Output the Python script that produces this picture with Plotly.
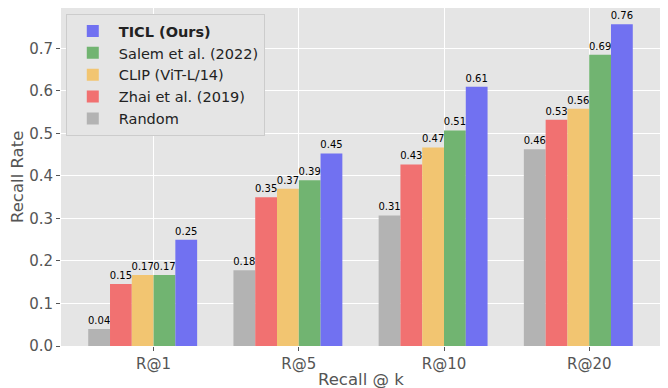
import plotly.graph_objects as go

categories = ["R@1", "R@5", "R@10", "R@20"]
methods = ["Random", "Zhai et al. (2019)", "CLIP (ViT-L/14)", "Salem et al. (2022)", "<b>TICL (Ours)</b>"]
random_vals = [0.04, 0.178, 0.307, 0.463]
zhai_vals = [0.146, 0.35, 0.427, 0.532]
clip_vals = [0.167, 0.37, 0.467, 0.558]
salem_vals = [0.167, 0.39, 0.507, 0.685]
ticl_vals = [0.25, 0.453, 0.61, 0.757]
colors = ["#B3B3B3", "#F17171", "#F2C571", "#71B471", "#7171F1"]

series = [random_vals, zhai_vals, clip_vals, salem_vals, ticl_vals]
w = 0.15
xs = list(range(len(categories)))

fig = go.Figure()
for k, (name, vals, col) in enumerate(zip(methods, series, colors)):
    fig.add_trace(go.Bar(
        x=xs, y=vals, name=name, width=w, offset=-3 * w + k * w,
        marker=dict(color=col, line=dict(width=0)),
        text=[f"{v:.2f}" for v in vals], textposition="outside",
        textfont=dict(size=10, color="black", family="DejaVu Sans"),
        constraintext="none", cliponaxis=False,
    ))

fig.update_layout(
    width=668, height=388,
    margin=dict(l=61, r=8, t=8, b=42),
    paper_bgcolor="white", plot_bgcolor="#E5E5E5",
    barmode="overlay",
    font=dict(family="DejaVu Sans", color="#555555"),
    showlegend=True,
    legend=dict(
        x=0.008, y=0.982, xanchor="left", yanchor="top", itemwidth=42,
        traceorder="reversed", bgcolor="#E5E5E5", bordercolor="#CCCCCC", borderwidth=1,
        font=dict(size=14.5, color="#222222"),
    ),
    xaxis=dict(
        range=[-0.6375, 3.4875], tickmode="array", tickvals=xs, ticktext=categories,
        showgrid=True, gridcolor="white", gridwidth=1, zeroline=False,
        ticks="outside", ticklen=4, tickcolor="#555555", automargin=False,
        tickfont=dict(size=15, color="#555555"),
    ),
    yaxis=dict(
        range=[0, 0.795], tickvals=[0, 0.1, 0.2, 0.3, 0.4, 0.5, 0.6, 0.7], tickformat=".1f",
        showgrid=True, gridcolor="white", gridwidth=1, zeroline=False,
        ticks="outside", ticklen=4, tickcolor="#555555", automargin=False,
        tickfont=dict(size=15, color="#555555"),
    ),
    annotations=[
        dict(text="Recall @ k", xref="paper", yref="paper", x=0.5, y=0, yshift=-33,
             xanchor="center", yanchor="middle", showarrow=False,
             font=dict(size=16.5, color="#555555")),
        dict(text="Recall Rate", xref="paper", yref="paper", x=0, y=0.5, xshift=-44,
             xanchor="center", yanchor="middle", textangle=-90, showarrow=False,
             font=dict(size=16.5, color="#555555")),
    ],
)

fig.write_html("out.html")
